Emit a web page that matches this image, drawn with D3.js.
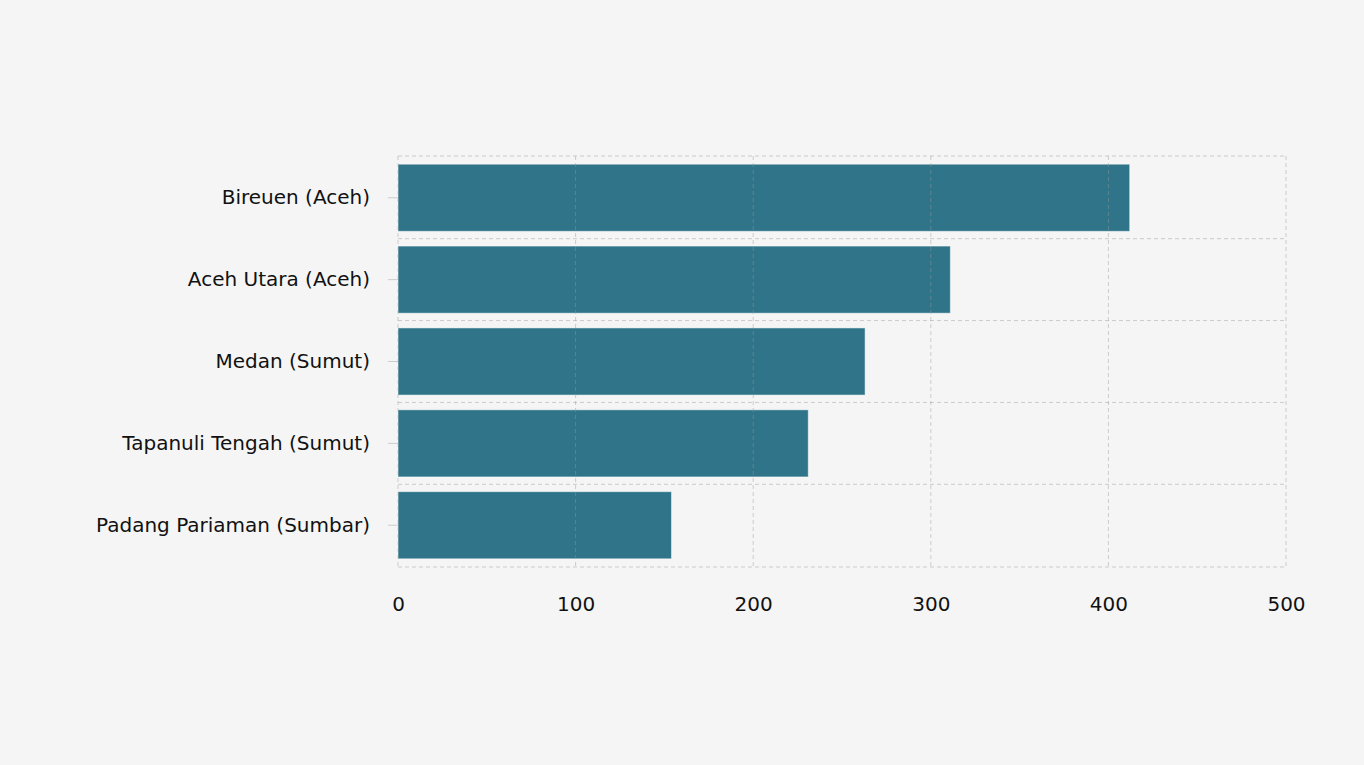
<!DOCTYPE html>
<html><head><meta charset="utf-8">
<script src="https://cdn.jsdelivr.net/npm/d3@7"></script>
<style>
body{margin:0;background:#f5f5f5;}
text{font-family:"DejaVu Sans",Verdana,sans-serif;}
</style></head>
<body><svg id="chart" width="1364" height="765"></svg>
<script>
var regions = ["Bireuen (Aceh)", "Aceh Utara (Aceh)", "Medan (Sumut)", "Tapanuli Tengah (Sumut)", "Padang Pariaman (Sumbar)"];
var counts = [412, 311, 263, 231, 154];
var xTicks = [0, 100, 200, 300, 400, 500];

var margin = {left: 398, right: 78, top: 156, bottom: 198};
var svg = d3.select("#chart");
var w = 1364 - margin.left - margin.right, h = 765 - margin.top - margin.bottom;
var g = svg.append("g").attr("transform", `translate(${margin.left},${margin.top})`);

var x = d3.scaleLinear().domain([0, 500]).range([0, w]);
var y = d3.scaleBand().domain(regions).range([0, h]).paddingInner(0.18).paddingOuter(0.1);

// bars (drawn under semi-transparent grid look)
g.selectAll("rect.bar").data(regions).join("rect")
  .attr("class", "bar")
  .attr("x", x(0))
  .attr("y", d => y(d))
  .attr("height", y.bandwidth())
  .attr("width", (d, i) => x(counts[i]))
  .attr("fill", "#2f7489")
  .attr("stroke", "#ffffff").attr("stroke-opacity", 0.5);

// grid
var grid = g.append("g").attr("stroke", "#999").attr("stroke-opacity", 0.45).attr("stroke-dasharray", "4,3");
grid.selectAll("line.v").data(xTicks).join("line")
  .attr("x1", d => x(d)).attr("x2", d => x(d)).attr("y1", 0).attr("y2", h);
var step = y.step();
var bounds = [0].concat(regions.map((d, i) => y(d) + y.bandwidth() + step * y.paddingInner() / 2));
bounds[bounds.length - 1] = h;
grid.selectAll("line.h").data(bounds).join("line")
  .attr("x1", 0).attr("x2", w).attr("y1", d => d).attr("y2", d => d);

// axes
var xa = g.append("g").attr("transform", `translate(0,${h})`)
  .call(d3.axisBottom(x).tickValues(xTicks).tickSize(0).tickPadding(30));
xa.select(".domain").remove();
xa.selectAll("text").attr("font-size", 20).attr("fill", "#111");

var ya = g.append("g").call(d3.axisLeft(y).tickSize(10).tickPadding(18));
ya.select(".domain").remove();
ya.selectAll("line").attr("stroke", "#ccc");
ya.selectAll("text").attr("font-size", 20).attr("fill", "#111");
</script></body></html>
